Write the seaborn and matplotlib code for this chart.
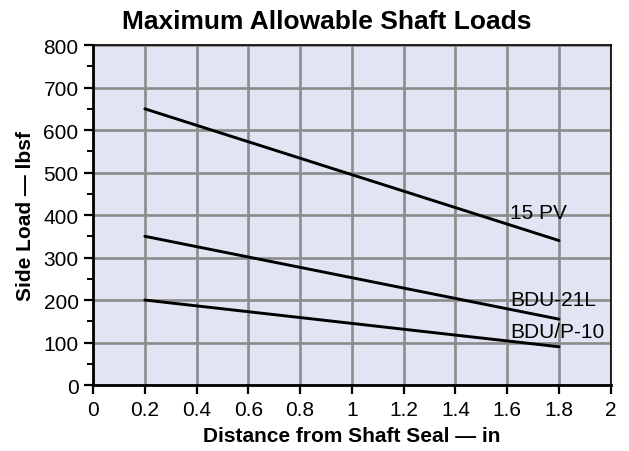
import matplotlib
matplotlib.use("Agg")
import matplotlib.pyplot as plt
import seaborn as sns
import pandas as pd
from matplotlib.ticker import MultipleLocator

# Values
distance = [0.2, 1.8]
load_15pv = [650, 340]
load_bdu21l = [350, 155]
load_bdup10 = [200, 90]
series_names = ["15 PV", "BDU-21L", "BDU/P-10"]
label_x = [1.61, 1.61, 1.61]
label_y = [407, 202, 125]

df = pd.DataFrame({
    "distance": distance * 3,
    "load": load_15pv + load_bdu21l + load_bdup10,
    "series": [series_names[0]] * 2 + [series_names[1]] * 2 + [series_names[2]] * 2,
})

sns.set_style("ticks")
plt.rcParams["font.family"] = ["Liberation Sans", "DejaVu Sans"]
plt.rcParams["text.color"] = "black"
plt.rcParams["axes.labelcolor"] = "black"
plt.rcParams["xtick.color"] = "black"
plt.rcParams["ytick.color"] = "black"

fig = plt.figure(figsize=(6.29, 4.52), dpi=100)
ax = fig.add_axes([0.148, 0.146, 0.823, 0.752])
ax.set_facecolor("#e1e4f2")

sns.lineplot(data=df, x="distance", y="load", hue="series",
             palette=["black"] * 3, linewidth=2.1, legend=False, ax=ax)

for name, lx, ly in zip(series_names, label_x, label_y):
    ax.text(lx, ly, name, fontsize=15, va="center", ha="left", color="black")

ax.set_xlim(0, 2)
ax.set_ylim(0, 800)
ax.yaxis.set_major_locator(MultipleLocator(100))
ax.yaxis.set_minor_locator(MultipleLocator(50))
ax.set_xticks([0, 0.2, 0.4, 0.6, 0.8, 1, 1.2, 1.4, 1.6, 1.8, 2])
ax.set_xticklabels(["0", "0.2", "0.4", "0.6", "0.8", "1", "1.2", "1.4", "1.6", "1.8", "2"])
ax.grid(True, which="major", color="#8c8c8c", linewidth=1.9)
ax.set_axisbelow(True)

ax.tick_params(axis="both", which="major", labelsize=15, length=6.5, width=1.6,
               color="black", labelcolor="black", pad=4)
ax.tick_params(axis="y", which="minor", length=4.5, width=1.4, color="black")
for side in ["left", "bottom"]:
    ax.spines[side].set_linewidth(2)
for side in ["top", "right"]:
    ax.spines[side].set_linewidth(1.2)
for s in ax.spines.values():
    s.set_color("black")

fig.text(0.52, 0.951, "Maximum Allowable Shaft Loads", fontsize=19, fontweight="bold",
         ha="center", va="center", color="black")
ax.set_xlabel("Distance from Shaft Seal \u2014 in", fontsize=15, fontweight="bold", labelpad=5)
ax.set_ylabel("Side Load \u2014 lbsf", fontsize=15, fontweight="bold", labelpad=6)

fig.savefig("out.png", dpi=100)
